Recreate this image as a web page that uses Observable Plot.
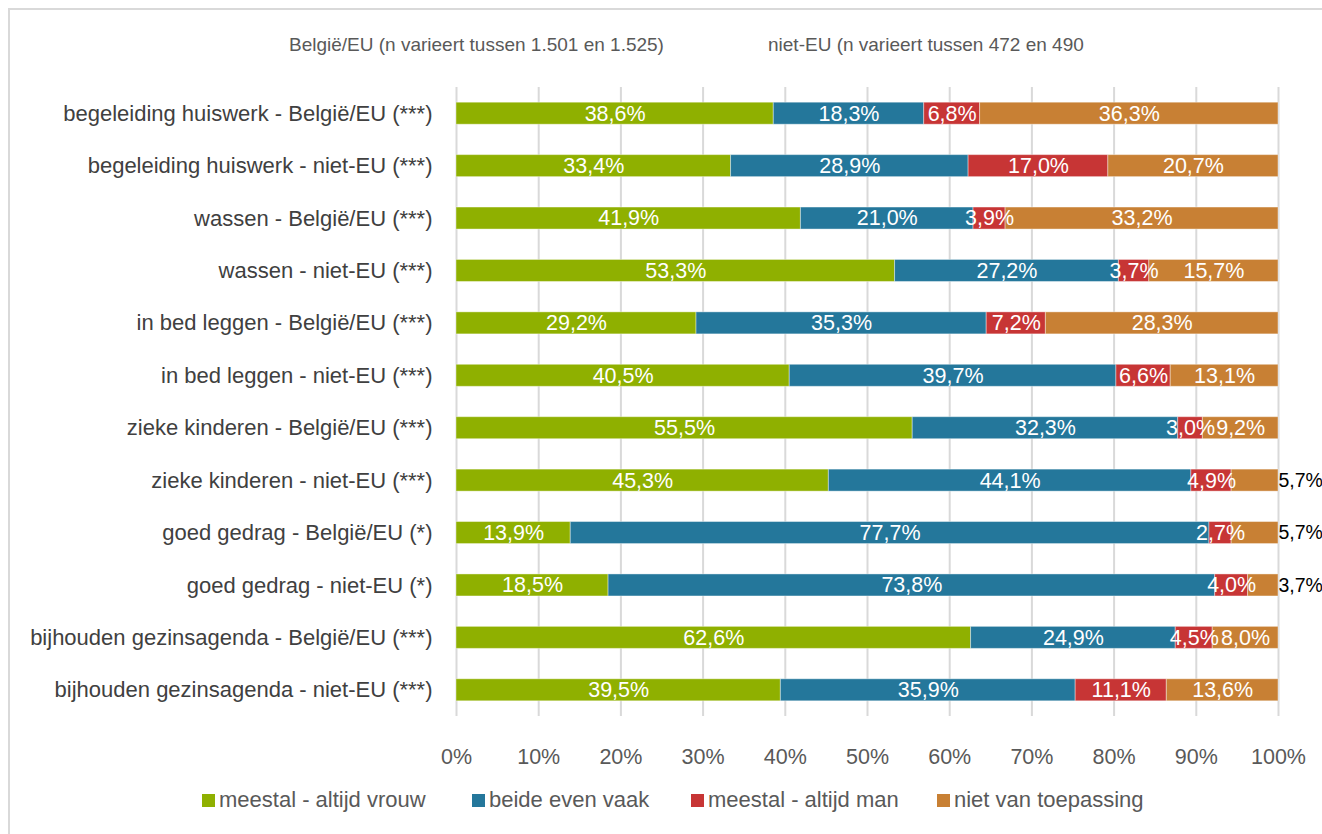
<!DOCTYPE html>
<html>
<head>
<meta charset="utf-8">
<script src="https://cdn.jsdelivr.net/npm/d3@7"></script>
<script src="https://cdn.jsdelivr.net/npm/@observablehq/plot@0.6"></script>
<style>
  body { margin: 0; background: #fff; font-family: "Liberation Sans", Arial, sans-serif; overflow: hidden; }
  #frame { position: absolute; left: 8px; top: 8px; width: 1400px; height: 900px; border: 2px solid #d9d9d9; box-sizing: border-box; pointer-events: none; }
  #header { position: relative; height: 70px; }
  #header span { position: absolute; top: 34px; font-size: 19px; color: #595959; white-space: nowrap; }
  #legend { position: relative; height: 64px; }
  .li { position: absolute; top: 17px; font-size: 22px; color: #595959; white-space: nowrap; display: flex; align-items: center; }
  .sw { display: inline-block; width: 13px; height: 13px; margin-right: 4px; }
</style>
</head>
<body>
<div id="frame"></div>
<div id="header">
  <span style="left:289px">België/EU (n varieert tussen 1.501 en 1.525)</span>
  <span style="left:768px">niet-EU (n varieert tussen 472 en 490</span>
</div>
<div id="chart"></div>
<div id="legend"></div>
<script>
const rows = [
  "begeleiding huiswerk - België/EU (***)",
  "begeleiding huiswerk - niet-EU (***)",
  "wassen - België/EU (***)",
  "wassen - niet-EU (***)",
  "in bed leggen - België/EU (***)",
  "in bed leggen - niet-EU (***)",
  "zieke kinderen - België/EU (***)",
  "zieke kinderen - niet-EU (***)",
  "goed gedrag - België/EU (*)",
  "goed gedrag - niet-EU (*)",
  "bijhouden gezinsagenda - België/EU (***)",
  "bijhouden gezinsagenda - niet-EU (***)"
];
const categories = ["meestal - altijd vrouw", "beide even vaak", "meestal - altijd man", "niet van toepassing"];
const colors = ["#8FB000", "#24779B", "#C73535", "#C88034"];
const vrouw = [38.6, 33.4, 41.9, 53.3, 29.2, 40.5, 55.5, 45.3, 13.9, 18.5, 62.6, 39.5];
const beide = [18.3, 28.9, 21.0, 27.2, 35.3, 39.7, 32.3, 44.1, 77.7, 73.8, 24.9, 35.9];
const man   = [6.8, 17.0, 3.9, 3.7, 7.2, 6.6, 3.0, 4.9, 2.7, 4.0, 4.5, 11.1];
const nvt   = [36.3, 20.7, 33.2, 15.7, 28.3, 13.1, 9.2, 5.7, 5.7, 3.7, 8.0, 13.6];
const xTicks = [0, 0.1, 0.2, 0.3, 0.4, 0.5, 0.6, 0.7, 0.8, 0.9, 1];
// rows whose last label sits outside the bar (black)
const outsideLabelRows = ["zieke kinderen - niet-EU (***)", "goed gedrag - België/EU (*)", "goed gedrag - niet-EU (*)"];

const series = [vrouw, beide, man, nvt];
const data = [];
rows.forEach((r, i) => categories.forEach((c, j) => data.push({row: r, cat: c, value: series[j][i]})));
const fmt = v => v.toFixed(1).replace(".", ",") + "%";
const isOutside = d => d.cat === categories[3] && outsideLabelRows.includes(d.row);

const font = "'Liberation Sans', Arial, sans-serif";
const stackOpts = {x: "value", y: "row", z: "cat", order: categories, offset: "normalize"};
const chart = Plot.plot({
  width: 1322,
  height: 700,
  marginLeft: 456,
  marginRight: 44,
  marginTop: 17,
  marginBottom: 54,
  style: {fontFamily: font, fontSize: "22px", background: "transparent"},
  x: {domain: [0, 1], label: null},
  y: {domain: rows, paddingInner: 0.58, paddingOuter: 0.29, align: 0.5, round: false, label: null},
  color: {domain: categories, range: colors},
  marks: [
    Plot.ruleX(xTicks, {stroke: "#d9d9d9", strokeWidth: 2}),
    Plot.barX(data, Plot.stackX({...stackOpts, fill: "cat", stroke: "#fff", strokeOpacity: 0.4, strokeWidth: 1})),
    Plot.text(data, Plot.stackX({...stackOpts, text: d => isOutside(d) ? null : fmt(d.value), fill: "#fff", fontSize: 21.5})),
    Plot.text(data, Plot.stackX2({...stackOpts, text: d => isOutside(d) ? fmt(d.value) : null, fill: "#000", fontSize: 19.5, textAnchor: "start", dx: 0})),
    Plot.axisX({ticks: xTicks, tickFormat: d => Math.round(d * 100) + "%", tickSize: 0, tickPadding: 32, fontSize: 21.5, fill: "#595959", label: null}),
    Plot.axisY({tickSize: 0, tickPadding: 24, fontSize: 22, fill: "#404040", label: null})
  ]
});
document.getElementById("chart").appendChild(chart);

const legendPos = [202, 472, 691, 937];
const legend = document.getElementById("legend");
categories.forEach((c, i) => {
  const el = document.createElement("div");
  el.className = "li";
  el.style.left = legendPos[i] + "px";
  el.innerHTML = `<span class="sw" style="background:${colors[i]}"></span>${c}`;
  legend.appendChild(el);
});
</script>
</body>
</html>
